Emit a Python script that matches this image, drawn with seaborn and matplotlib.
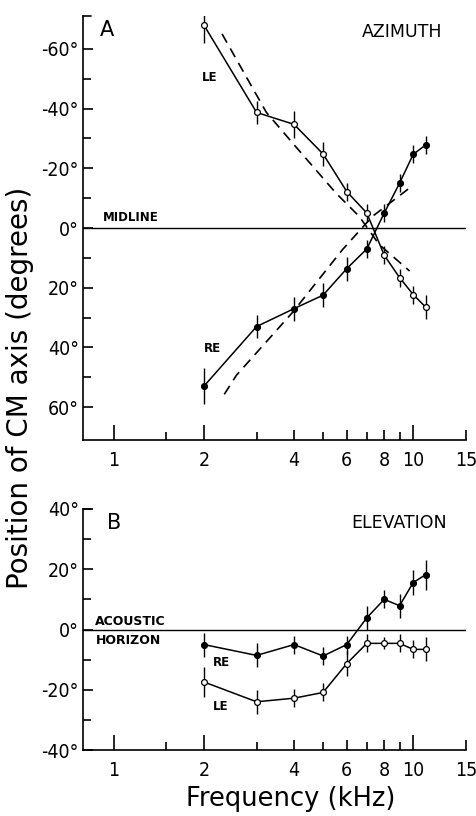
import numpy as np
import pandas as pd
import matplotlib
matplotlib.use("Agg")
import matplotlib.pyplot as plt
import seaborn as sns
from matplotlib.ticker import FixedLocator, NullFormatter, FixedFormatter

# ---- data ----
freq = [2, 3, 4, 5, 6, 7, 8, 9, 10, 11]

az_le = [-68, -38.7, -34.7, -24.8, -12.2, -5, 9.1, 16.6, 22.3, 26.5]
az_le_err = [6, 4, 4.5, 4, 3, 3, 3, 3, 3, 4]
az_re = [53, 33, 27, 22.5, 13.6, 7, -5, -15, -24.7, -27.8]
az_re_err = [6, 4, 4, 4, 4, 3, 3, 3, 3, 3]

az_le_pred_f = [2.3, 3.23, 3.96, 5.52, 6.6, 7.69, 9.72]
az_le_pred = [-65, -38.8, -28.4, -11.7, -3.9, 5.5, 14.4]
az_re_pred_f = [2.34, 2.57, 3.96, 5.81, 7.31, 9.72]
az_re_pred = [55.7, 49.3, 28.2, 7.2, -3.9, -13.4]

el_re = [-5, -8.6, -5, -8.8, -5, 3.9, 10, 7.9, 15.6, 18.2]
el_re_err = [4, 4, 3, 3, 3, 4, 3, 4, 4, 5]
el_le = [-17.4, -24, -22.8, -20.9, -11.3, -4.6, -4.6, -4.6, -6.6, -6.6]
el_le_err = [5, 4, 3, 3, 4, 3, 2, 3, 3, 4]

xticks_major = [1, 2, 4, 6, 8, 10, 15]
xtick_labels = ["1", "2", "4", "6", "8", "10", "15"]
az_ticks = [-60, -40, -20, 0, 20, 40, 60]
az_labels = ["-60°", "-40°", "-20°", "0°", "20°", "40°", "60°"]
el_ticks = [-40, -20, 0, 20, 40]
el_labels = ["-40°", "-20°", "0°", "20°", "40°"]

sns.set_style("ticks")
plt.rcParams["font.family"] = ["DejaVu Sans"]
plt.rcParams["text.color"] = "black"
plt.rcParams["xtick.color"] = "black"
plt.rcParams["ytick.color"] = "black"
plt.rcParams["axes.edgecolor"] = "black"

W, H = 476, 816
fig = plt.figure(figsize=(W / 100, H / 100), dpi=100)

def axrect(l, t, r, b):
    return [l / W, 1 - b / H, (r - l) / W, (b - t) / H]

axA = fig.add_axes(axrect(83, 16, 466, 440))
axB = fig.add_axes(axrect(83, 509, 466, 750))

lw = 1.1
ms = 4.2

def series(ax, x, y, err, filled):
    df = pd.DataFrame({"f": x, "v": y})
    sns.lineplot(data=df, x="f", y="v", ax=ax, color="black", lw=lw,
                 marker="o", markersize=ms,
                 markerfacecolor="black" if filled else "white",
                 markeredgecolor="black", markeredgewidth=0.9, zorder=3)
    ax.errorbar(x, y, yerr=err, fmt="none", ecolor="black", elinewidth=1.0,
                capsize=0, zorder=2)

def style_axis(ax, ylim, yticks, ylabels, minor):
    ax.set_xscale("log")
    ax.set_xlim(0.79, 15)
    ax.set_ylim(*ylim)
    sns.despine(ax=ax)
    ax.spines["left"].set_linewidth(1.2)
    ax.spines["bottom"].set_linewidth(1.2)
    ax.xaxis.set_major_locator(FixedLocator(xticks_major))
    ax.xaxis.set_major_formatter(FixedFormatter(xtick_labels))
    ax.xaxis.set_minor_locator(FixedLocator([1.5, 3, 5, 7, 9]))
    ax.xaxis.set_minor_formatter(NullFormatter())
    ax.tick_params(axis="x", which="major", direction="in", length=7, width=1.2,
                   labelsize=14, pad=8, colors="black")
    ax.tick_params(axis="x", which="minor", direction="in", length=6, width=1.2,
                   colors="black")
    ax.set_yticks(yticks)
    ax.set_yticklabels(ylabels)
    ax.yaxis.set_minor_locator(FixedLocator(minor))
    ax.tick_params(axis="y", which="major", direction="in", length=7, width=1.2,
                   labelsize=14, pad=3, colors="black")
    ax.tick_params(axis="y", which="minor", direction="in", length=6, width=1.2,
                   colors="black")
    for lab in ax.get_xticklabels() + ax.get_yticklabels():
        lab.set_fontstretch("condensed")
    # longer ticks at 1, 2 and 10
    for t, val in zip(ax.xaxis.get_major_ticks(), xticks_major):
        if val in (1, 2, 10):
            t.tick1line.set_markersize(11)
    ax.set_xlabel("")
    ax.set_ylabel("")
    # bracket at top of left spine
    ax.plot([0, 0.022], [1, 1], transform=ax.transAxes, color="black",
            lw=1.2, clip_on=False)

# ---- Panel A ----
series(axA, freq, az_le, az_le_err, filled=False)
series(axA, freq, az_re, az_re_err, filled=True)
axA.plot(az_le_pred_f, az_le_pred, color="black", lw=1.2, ls=(0, (6, 4)))
axA.plot(az_re_pred_f, az_re_pred, color="black", lw=1.2, ls=(0, (6, 4)))
axA.axhline(0, color="black", lw=1.0)
style_axis(axA, (71, -71), az_ticks, az_labels, [-50, -30, -10, 10, 30, 50])
axA.text(0.045, 0.99, "A", transform=axA.transAxes, fontsize=15, va="top")
axA.text(0.727, 0.983, "AZIMUTH", transform=axA.transAxes, fontsize=12.5, va="top")
axA.text(1.97, -50.5, "LE", fontsize=8.5, fontweight="bold", ha="left", va="center")
axA.text(2.0, 40.2, "RE", fontsize=8.5, fontweight="bold", ha="left", va="center")
axA.text(0.92, -3.5, "MIDLINE", fontsize=8.5, fontweight="bold", ha="left", va="center")

# ---- Panel B ----
series(axB, freq, el_re, el_re_err, filled=True)
series(axB, freq, el_le, el_le_err, filled=False)
axB.axhline(0, color="black", lw=1.0)
style_axis(axB, (-40, 40), el_ticks, el_labels, [-30, -10, 10, 30])
axB.text(0.063, 0.985, "B", transform=axB.transAxes, fontsize=15, va="top")
axB.text(0.70, 0.98, "ELEVATION", transform=axB.transAxes, fontsize=12.5, va="top")
axB.text(0.865, 2.8, "ACOUSTIC", fontsize=9, fontweight="bold", ha="left", va="center")
axB.text(0.875, -3.5, "HORIZON", fontsize=9, fontweight="bold", ha="left", va="center")
axB.text(2.15, -10.8, "RE", fontsize=8.5, fontweight="bold", ha="left", va="center")
axB.text(2.15, -25.5, "LE", fontsize=8.5, fontweight="bold", ha="left", va="center")

fig.text(20 / W, 1 - 388 / H, "Position of CM axis (degrees)", rotation=90,
         fontsize=20, ha="center", va="center")
fig.text(291 / W, 1 - 799 / H, "Frequency (kHz)", fontsize=18.5,
         ha="center", va="center")

fig.savefig("out.png", dpi=100)
